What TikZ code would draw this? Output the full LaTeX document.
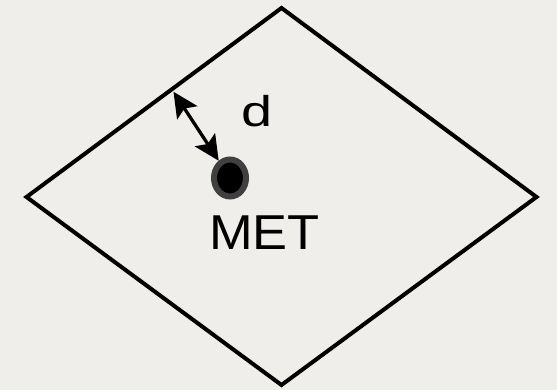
\documentclass[tikz,border=0pt]{standalone}
\usepackage{fontspec}
\setmainfont{Liberation Sans}
\usetikzlibrary{arrows.meta,calc,shapes.geometric}
\definecolor{cpaper}{HTML}{EFEEEB}
\definecolor{cring}{HTML}{404040}
\tikzset{
  border/.style={draw=black, line width=4pt, line join=miter},
  metdot/.style={ellipse, draw=cring, fill=black, line width=6pt,
                 minimum width=32pt, minimum height=37pt, inner sep=0pt},
  dist/.style={{Stealth[length=25pt,width=24pt,inset=5pt]}-{Stealth[length=25pt,width=24pt,inset=5pt]},
               draw=black, line width=3.3pt, shorten <=3pt},
  lbl/.style={inner sep=0pt, text=black, transform shape}
}

\begin{document}
\begin{tikzpicture}[x=1pt, y=-1pt]

\fill[cpaper] (0,0) rectangle (557,390);
\useasboundingbox (0,0) rectangle (557,390);

\coordinate (top) at (281.5,8);
\coordinate (right) at (536.5,197);
\coordinate (bottom) at (281.5,385);
\coordinate (left) at (26.5,197);
\draw[border] (top) -- (right) -- (bottom) -- (left) -- cycle;

\coordinate (edge) at ($(left)!0.57!(top)$);
\node[metdot] (met) at (230,178) {};

\draw[dist] (edge) -- (met);

\node[lbl, font=\fontsize{43}{43}\selectfont, xscale=1.3] (dlbl) at (257,111.5) {d};
\node[lbl, font=\fontsize{49}{49}\selectfont, xscale=1.07] (metlbl) at (264.5,232.5) {MET};

\end{tikzpicture}
\end{document}
